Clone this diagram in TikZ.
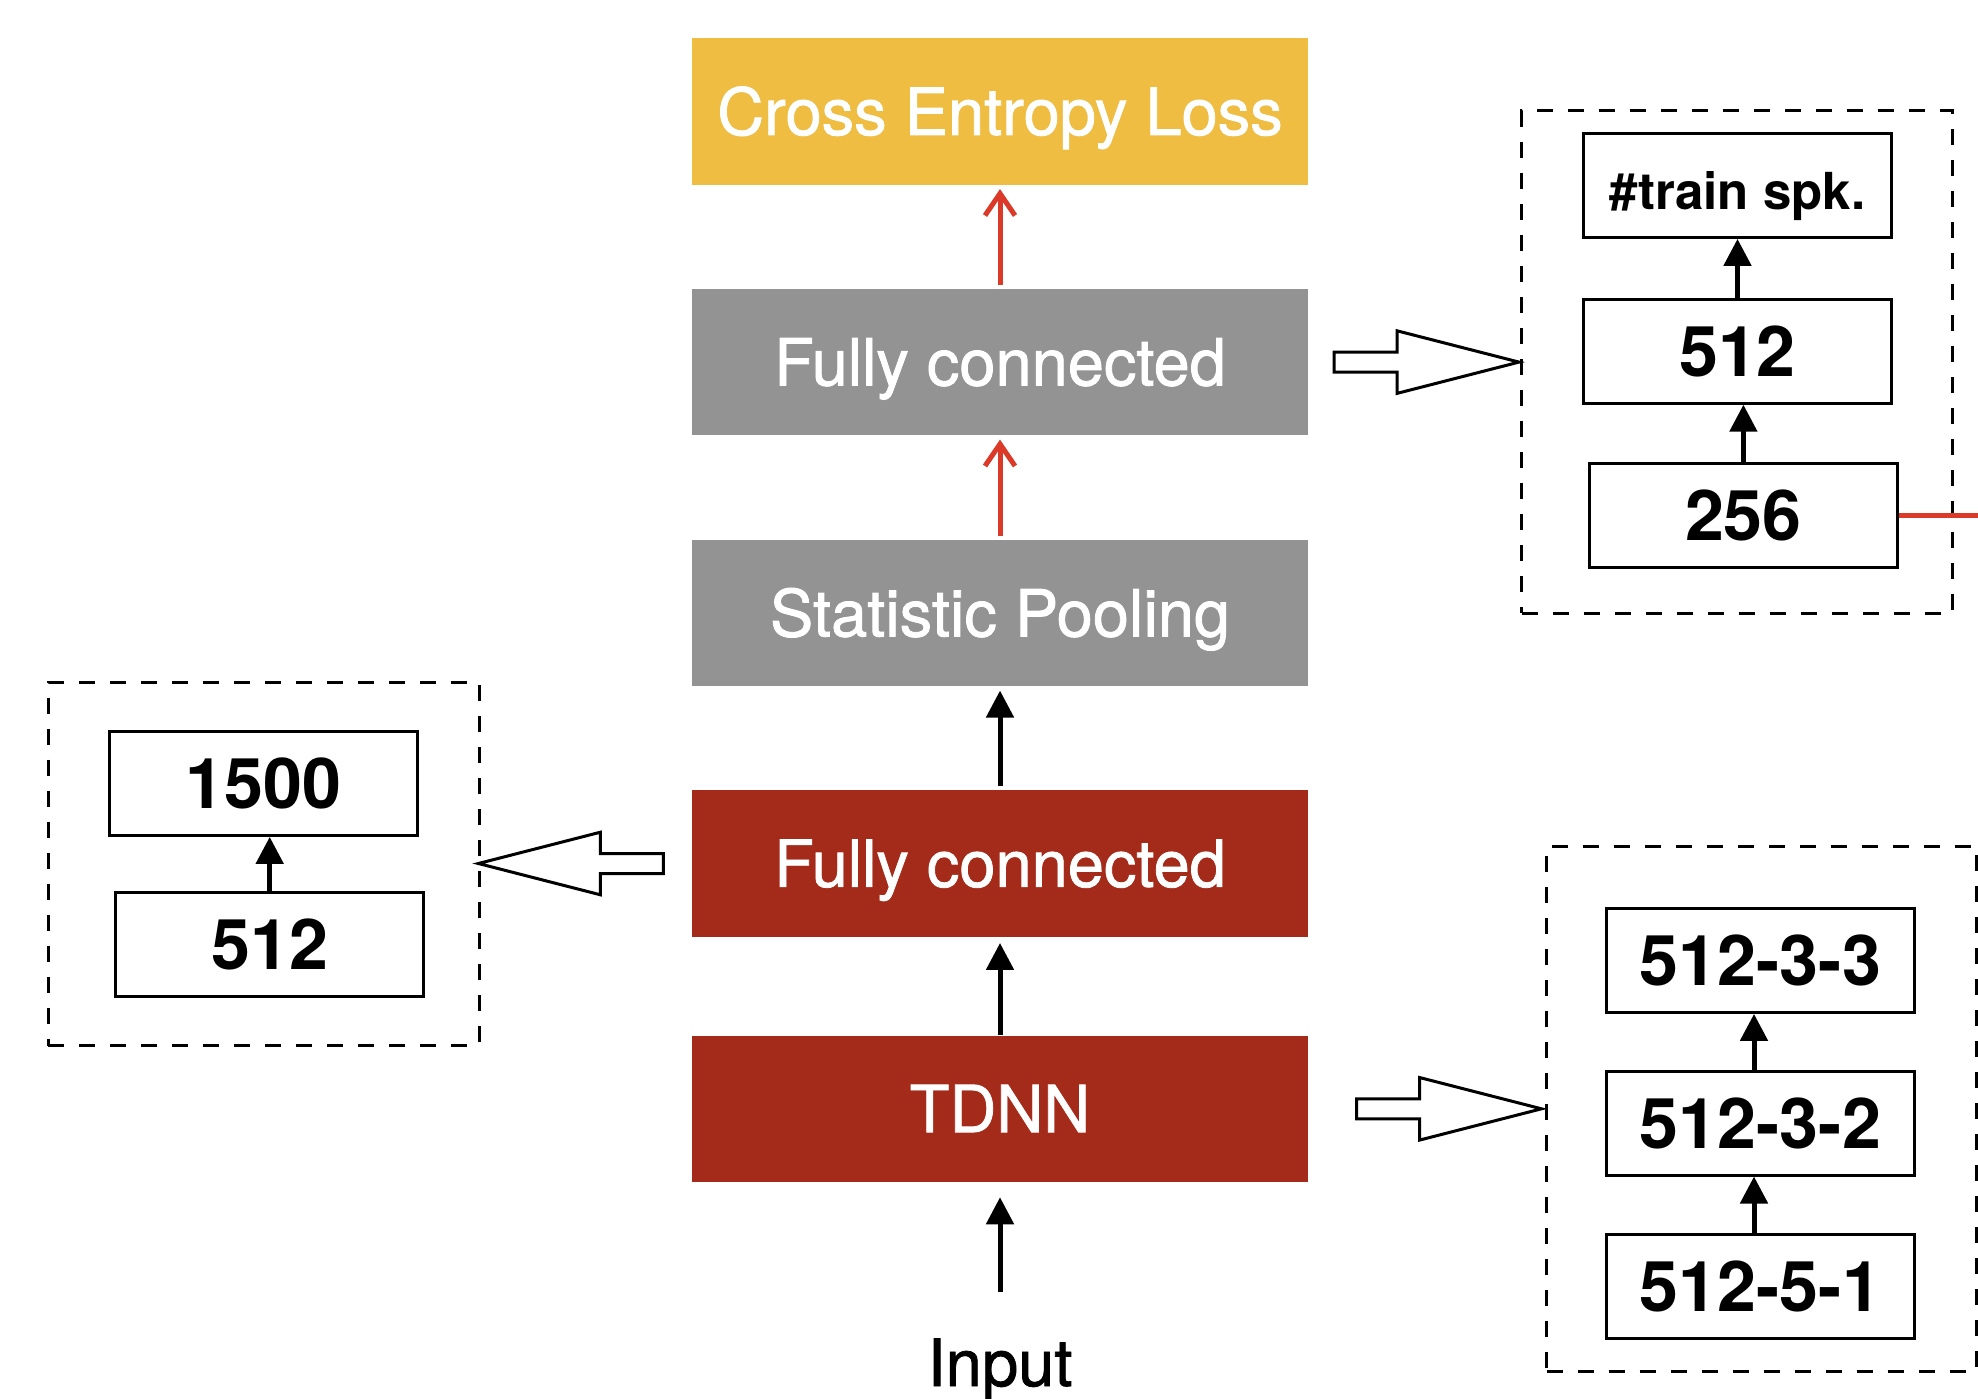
\documentclass[tikz,border=0pt]{standalone}
\usepackage{fontspec}
\setmainfont{TeX Gyre Heros}
\newfontfamily\stagefont[FakeBold=1.2]{TeX Gyre Heros}
\usetikzlibrary{arrows.meta,calc}
\definecolor{lossgold}{HTML}{EEBD42}
\definecolor{poolgray}{HTML}{939393}
\definecolor{tdnnred}{HTML}{A42A1A}
\definecolor{linkred}{HTML}{DA3A27}

\begin{document}
\begin{tikzpicture}[x=1pt,y=-1pt,
  stage/.style={minimum width=615.6pt, minimum height=146.5pt, inner sep=0pt,
    text=white, font=\stagefont\fontsize{65}{78}\selectfont, text height=46.7pt, text depth=0pt},
  unit/.style={draw, line width=3pt, minimum width=308pt, minimum height=104pt, inner sep=0pt,
    font=\bfseries\fontsize{70}{80}\selectfont, text height=50.2pt, text depth=0pt},
  group/.style={draw, line width=3pt, dash pattern=on 16pt off 15pt, inner sep=0pt},
  flow/.style={line width=5pt, -{Triangle[length=27pt,width=27pt]}},
  redflow/.style={line width=5pt, draw=linkred, -{Straight Barb[length=22pt,width=30pt]}},
  hollow arrow/.pic={\draw[line width=3pt, line join=miter, fill=white]
    (0,-10) -- (63,-10) -- (63,-31.3) -- (185,0) -- (63,31.3) -- (63,10) -- (0,10) -- cycle;}
]
\useasboundingbox (0,0) rectangle (1978,1399);

% main pipeline
\node[stage, fill=lossgold] (loss) at (1000,111.6) {Cross Entropy Loss};
\node[stage, fill=poolgray] (fc2)  at (1000,362.1) {Fully connected};
\node[stage, fill=poolgray] (pool) at (1000,613.1) {Statistic Pooling};
\node[stage, fill=tdnnred]  (fc1)  at (1000,863.5) {Fully connected};
\node[stage, fill=tdnnred]  (tdnn) at (1000,1108.8) {TDNN};
\node[font=\stagefont\fontsize{65}{78}\selectfont, inner sep=0pt, anchor=base] (input) at (1000,1386) {Input};
\coordinate (inTail) at (1000,1292);

\draw[redflow, shorten <=4pt, shorten >=4pt] (fc2.north) -- (loss.south);
\draw[redflow, shorten <=4pt, shorten >=4pt] (pool.north) -- (fc2.south);
\draw[flow, shorten <=4pt, shorten >=4pt] (fc1.north) -- (pool.south);
\draw[flow, shorten >=6pt] (tdnn.north) -- (fc1.south);
\draw[flow, shorten >=15pt] (inTail) -- (tdnn.south);

% output layers
\node[group, minimum width=431pt, minimum height=502pt] (topgrp) at (1737.2,362) {};
\node[unit, text height=49.2pt] (spk) at (1737.5,185.4) {\fontsize{51}{60}\selectfont\#train spk.};
\node[unit] (t512) at (1737.5,351.2) {512};
\node[unit] (t256) at (1743.4,515.5) {256};
\draw[flow] (t256.north) -- (t256.north |- t512.south);
\draw[flow] (t512.north) -- (t512.north |- spk.south);
\coordinate (offR) at (1978,515.5);
\draw[line width=5pt, linkred] (t256.east) -- (offR);

% TDNN layers
\node[group, minimum width=430pt, minimum height=525pt] (tdnngrp) at (1761.7,1108.5) {};
\node[unit] (k3) at (1760.5,960.4) {512-3-3};
\node[unit] (k2) at (1760.5,1123) {512-3-2};
\node[unit] (k1) at (1760.5,1286.4) {512-5-1};
\draw[flow] ([xshift=-6.5pt]k1.north) -- ([xshift=-6.5pt]k1.north |- k2.south);
\draw[flow] ([xshift=-6.5pt]k2.north) -- ([xshift=-6.5pt]k2.north |- k3.south);

% segment-level layers
\node[group, minimum width=430.7pt, minimum height=363.4pt] (fcgrp) at (263.65,864) {};
\node[unit] (s1500) at (263.8,783.4) {1500};
\node[unit] (s512)  at (269.7,944.5) {512};
\draw[flow] (s512.north) -- (s512.north |- s1500.south);

% hollow pointers to the detail boxes
\pic at ([xshift=26pt]fc2.east) {hollow arrow};
\pic at ([xshift=48.5pt]tdnn.east) {hollow arrow};
\pic[xscale=-1] at ([xshift=-28.6pt]fc1.west) {hollow arrow};
\end{tikzpicture}
\end{document}
